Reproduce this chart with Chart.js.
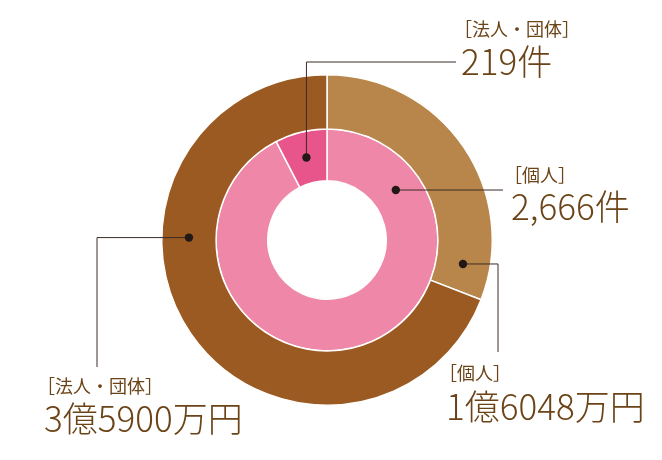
<!DOCTYPE html>
<html lang="ja">
<head>
  <meta charset="UTF-8">
  <title>寄附 件数・金額</title>
  <script src="https://cdn.jsdelivr.net/npm/chart.js"></script>
  <style>
    body { margin: 0; background: #fff; }
    .wrap { width: 662px; height: 460px; }
  </style>
</head>
<body>
  <div class="wrap">
    <canvas id="ringChart" width="662" height="460"></canvas>
  </div>

  <script>
    // data
    const groups = ['個人', '法人・団体'];
    const amountValues = [16048, 35900];          // 万円 (outer ring)
    const amountTexts = ['1億6048万円', '3億5900万円'];
    const countValues = [2666, 219];              // 件 (inner ring)
    const countTexts = ['2,666件', '219件'];

    const amountColors = ['#b8864b', '#9b5a21'];
    const countColors = ['#ef88a8', '#e8558a'];
    const textColor = '#6b4317';
    const lineColor = '#3a2c27';

    // callouts: dataset, index, angle of dot (deg from top, clockwise),
    // leader path as offsets from chart centre, text anchor
    const callouts = [
      { ds: 1, idx: 1, angle: -14, path: [['dot', -178], [129, -178]], tx: 136, by: -204, vy: -165 },
      { ds: 1, idx: 0, angle: 54,  path: [[176, 'dot']], tx: 186, by: -58, vy: -20 },
      { ds: 0, idx: 0, angle: 100, path: [[171, 'dot'], [171, 112]], tx: 121, by: 140, vy: 180 },
      { ds: 0, idx: 1, angle: 271, path: [[-230, 'dot'], [-230, 127]], tx: -281, by: 153, vy: 192 }
    ];

    const valueFont = '300 35px "Noto Sans CJK JP Light", "Noto Sans CJK JP", "Noto Sans", sans-serif';
    const groupFont = '400 18px "Noto Sans CJK JP", "Noto Sans", sans-serif';

    const calloutPlugin = {
      id: 'callouts',
      afterDatasetsDraw(chart) {
        const ctx = chart.ctx;
        callouts.forEach(c => {
          const arc = chart.getDatasetMeta(c.ds).data[c.idx];
          const cx = arc.x, cy = arc.y;
          const r = (arc.innerRadius + arc.outerRadius) / 2;
          const a = (c.angle - 90) * Math.PI / 180;
          const dx = cx + r * Math.cos(a), dy = cy + r * Math.sin(a);

          ctx.save();
          ctx.strokeStyle = lineColor;
          ctx.lineWidth = 1;
          ctx.beginPath();
          ctx.moveTo(dx, dy);
          c.path.forEach(p => {
            const x = p[0] === 'dot' ? dx : cx + p[0];
            const y = p[1] === 'dot' ? dy : cy + p[1];
            ctx.lineTo(x, y);
          });
          ctx.stroke();

          ctx.fillStyle = '#231815';
          ctx.beginPath();
          ctx.arc(dx, dy, 4.2, 0, Math.PI * 2);
          ctx.fill();

          const texts = c.ds === 0 ? amountTexts : countTexts;
          ctx.fillStyle = textColor;
          ctx.textAlign = 'left';
          ctx.textBaseline = 'alphabetic';
          ctx.font = groupFont;
          ctx.fillText('［' + groups[c.idx] + '］', cx + c.tx - 9, cy + c.by);
          ctx.font = valueFont;
          ctx.fillText(texts[c.idx], cx + c.tx - 2, cy + c.vy);
          ctx.restore();
        });
      }
    };

    new Chart(document.getElementById('ringChart'), {
      type: 'doughnut',
      data: {
        labels: groups,
        datasets: [
          { label: '金額', data: amountValues, backgroundColor: amountColors, borderColor: '#fff', borderWidth: 1.5, weight: 1.05 },
          { label: '件数', data: countValues, backgroundColor: countColors, borderColor: '#fff', borderWidth: 1.5, weight: 1 }
        ]
      },
      options: {
        responsive: false,
        animation: false,
        cutout: '35.8%',
        layout: { padding: { left: 161, right: 169, top: 74, bottom: 54 } },
        plugins: { legend: { display: false }, tooltip: { enabled: false } }
      },
      plugins: [calloutPlugin]
    });
  </script>
</body>
</html>
